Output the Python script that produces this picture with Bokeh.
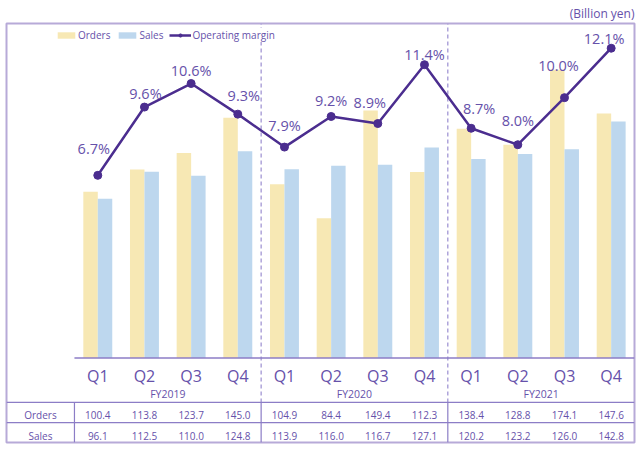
from bokeh.plotting import figure
from bokeh.models import Range1d, ColumnDataSource, Legend, LegendItem, Title
from bokeh.core.properties import value
from bokeh.embed import file_html
from bokeh.resources import INLINE

# ---------------- data ----------------
quarters = ["Q1", "Q2", "Q3", "Q4", "Q1", "Q2", "Q3", "Q4", "Q1", "Q2", "Q3", "Q4"]
fiscal_years = ["FY2019", "FY2020", "FY2021"]
orders = [100.4, 113.8, 123.7, 145.0, 104.9, 84.4, 149.4, 112.3, 138.4, 128.8, 174.1, 147.6]
sales = [96.1, 112.5, 110.0, 124.8, 113.9, 116.0, 116.7, 127.1, 120.2, 123.2, 126.0, 142.8]
margin = [6.7, 9.6, 10.6, 9.3, 7.9, 9.2, 8.9, 11.4, 8.7, 8.0, 10.0, 12.1]
row_names = ["Orders", "Sales"]

# ---------------- style / layout ----------------
FONT = "Open Sans"
C_ORD = "#f7e8b4"
C_SAL = "#bdd7ee"
C_LINE = "#4b2d8f"
C_TEXT = "#6651aa"
C_FRAME = "#b7aad8"
C_RULE = "#8c7dc6"
C_DASH = "#9a8dd0"
# label offsets in screen px (dx, dy)
lab_dx = [-4, 1, 0, 6, 0, 0, -8, 0, 8, 0, -6, -7]
lab_dy = [-27, -14, -13, -19, -22, -16, -21, -10, -20, -24, -32, -10]

W, H = 640, 452
LEFT_B, RIGHT_B, TOP_B, BOT_B = 6, 6, 21, 10
FRAME_TOP, FRAME_BOT = TOP_B, H - BOT_B  # page px
BASE = 357.0  # page y of value 0
Y_TOP = 202.0
K = (BASE - FRAME_TOP) / Y_TOP
Y_BOT = -(FRAME_BOT - BASE) / K


def yv(page_y):
    return (BASE - page_y) / K


n = len(orders)
x = list(range(n))
X0, X1 = -1.956, n - 0.5

p = figure(width=W, height=H, output_backend="svg", toolbar_location=None,
           x_range=Range1d(X0, X1), y_range=Range1d(Y_BOT, Y_TOP),
           x_axis_type=None, y_axis_type=None, min_border=0,
           min_border_top=TOP_B, min_border_bottom=BOT_B,
           min_border_left=LEFT_B, min_border_right=RIGHT_B)
p.title = Title(text="(Billion yen)", align="right", text_font=FONT, text_font_size="12px",
                text_font_style="normal", text_color=C_TEXT, standoff=4, offset=0)
p.extra_y_ranges = {"pct": Range1d(-4.65, 13.15)}
p.grid.visible = False
p.outline_line_color = C_FRAME
p.outline_line_width = 2
p.background_fill_color = "white"
p.border_fill_color = "white"

src = ColumnDataSource(dict(
    x=x, xo=[v - 0.155 for v in x], xs=[v + 0.155 for v in x],
    orders=orders, sales=sales, margin=margin,
    mlab=[f"{v:.1f}%" for v in margin], dx=lab_dx, dy=lab_dy,
    q=quarters,
    otxt=[f"{v:.1f}" for v in orders], stxt=[f"{v:.1f}" for v in sales],
))

# dashed year separators (upper part) and solid in table
TABLE_TOP, ROW_SEP = 401.7, 422.0
for xs_ in [3.5, 7.5]:
    p.segment(x0=xs_, y0=yv(TABLE_TOP), x1=xs_, y1=Y_TOP, line_color=C_DASH,
              line_width=1.2, line_dash="4 3")
    p.segment(x0=xs_, y0=yv(TABLE_TOP), x1=xs_, y1=Y_BOT, line_color=C_RULE, line_width=1.2)

r_o = p.vbar(x="xo", top="orders", width=0.31, source=src, fill_color=C_ORD, line_color=None)
r_s = p.vbar(x="xs", top="sales", width=0.31, source=src, fill_color=C_SAL, line_color=None)

# baseline & table rules
p.segment(x0=-0.5, y0=0, x1=X1, y1=0, line_color=C_RULE, line_width=1.5)
p.segment(x0=X0, y0=yv(TABLE_TOP), x1=X1, y1=yv(TABLE_TOP), line_color=C_RULE, line_width=1.2)
p.segment(x0=X0, y0=yv(ROW_SEP), x1=X1, y1=yv(ROW_SEP), line_color=C_RULE, line_width=1.2)
p.segment(x0=-0.5, y0=yv(TABLE_TOP), x1=-0.5, y1=Y_BOT, line_color=C_RULE, line_width=1.2)

r_l = p.line(x="x", y="margin", source=src, y_range_name="pct", line_color=C_LINE, line_width=2.5)
r_m = p.scatter(x="x", y="margin", source=src, y_range_name="pct", size=8,
                fill_color=C_LINE, line_color=C_LINE)
p.text(x="x", y="margin", text="mlab", source=src, y_range_name="pct",
       x_offset="dx", y_offset="dy", text_align="center", text_baseline="middle",
       text_font=value(FONT), text_font_size="14.5px", text_color=C_TEXT)

# quarter labels & fiscal years
p.text(x="x", y=yv(375.5), text="q", source=src, text_align="center", text_baseline="middle",
       text_font=value(FONT), text_font_size="16px", text_color=C_TEXT)
fy_src = ColumnDataSource(dict(x=[1.5 + 4 * i for i in range(len(fiscal_years))], t=fiscal_years))
p.text(x="x", y=yv(393), text="t", source=fy_src, text_align="center", text_baseline="middle",
       text_font=value(FONT), text_font_size="10.5px", text_color=C_TEXT)

# table
ROW_Y = [yv(414.5), yv(435.5)]
p.text(x="x", y=ROW_Y[0], text="otxt", source=src, text_align="center", text_baseline="middle",
       text_font=value(FONT), text_font_size="10px", text_color=C_TEXT)
p.text(x="x", y=ROW_Y[1], text="stxt", source=src, text_align="center", text_baseline="middle",
       text_font=value(FONT), text_font_size="10px", text_color=C_TEXT)
rn_src = ColumnDataSource(dict(x=[(X0 - 0.5) / 2] * 2, y=ROW_Y, t=row_names))
p.text(x="x", y="y", text="t", source=rn_src, text_align="center", text_baseline="middle",
       text_font=value(FONT), text_font_size="10px", text_color=C_TEXT)

legend = Legend(items=[
    LegendItem(label="Orders", renderers=[r_o]),
    LegendItem(label="Sales", renderers=[r_s]),
    LegendItem(label="Operating margin", renderers=[r_l, r_m]),
], orientation="horizontal", location=(49, 400), padding=0, margin=0,
    spacing=6, glyph_width=22, glyph_height=8, label_height=12, label_standoff=1,
    label_text_font=FONT, label_text_font_size="10px", label_text_color=C_TEXT,
    border_line_color=None, background_fill_color="white", background_fill_alpha=1)
p.add_layout(legend)

open("out.html", "w").write(file_html(p, INLINE))
